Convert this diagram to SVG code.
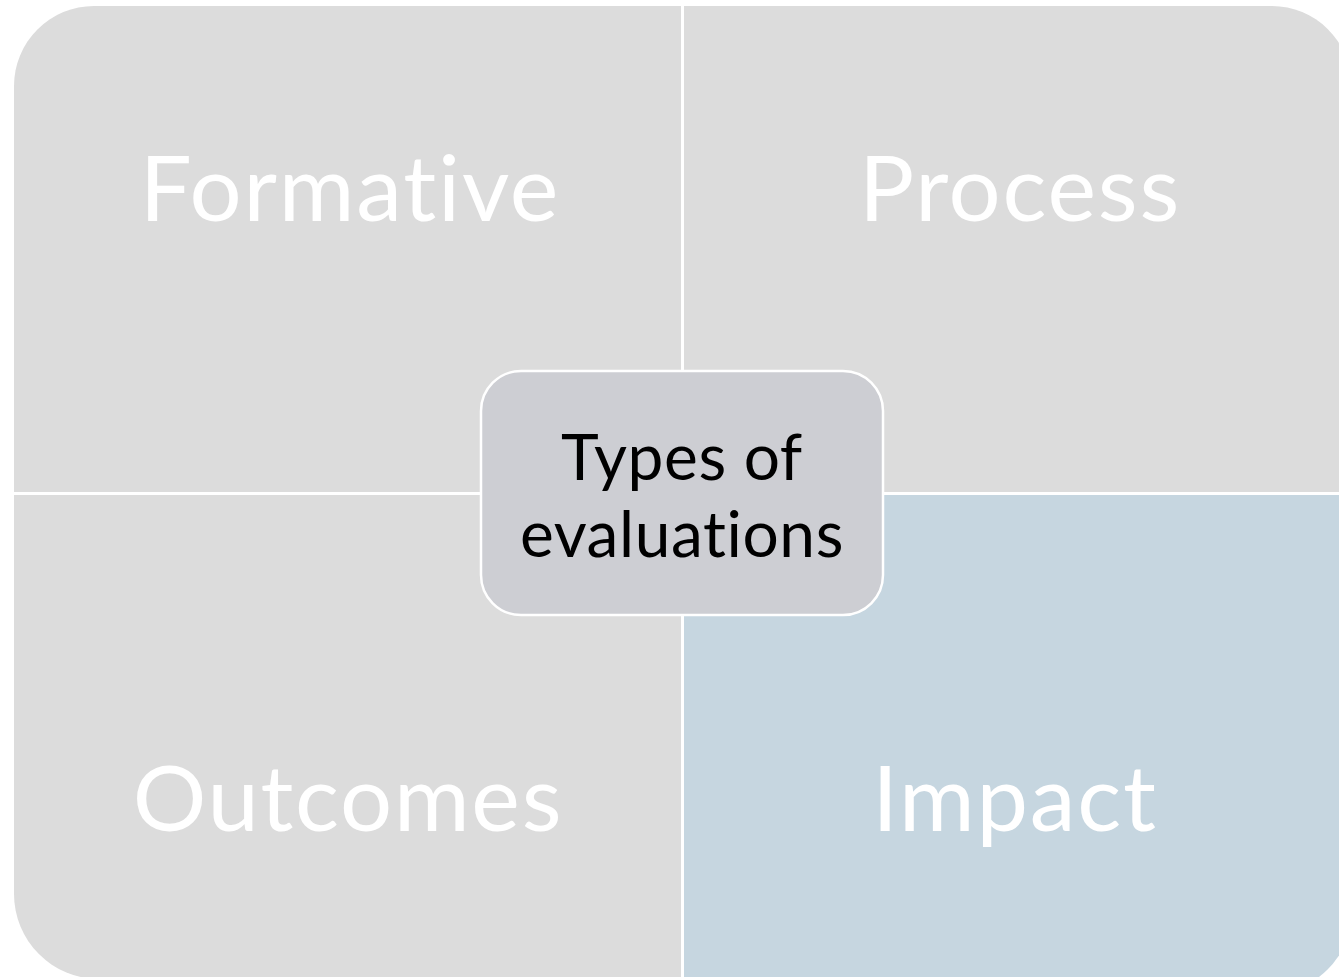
<svg xmlns="http://www.w3.org/2000/svg" width="1339" height="977" viewBox="0 0 1339 977">
<style>
.q{fill:#DCDCDC;}
.qi{fill:#C6D6E0;}
text{font-variant-ligatures:none;font-feature-settings:"liga" 0,"clig" 0;}
.qt{font-family:Lato,"Liberation Sans",sans-serif;font-weight:400;font-size:92px;letter-spacing:1.8px;fill:#FFFFFF;text-anchor:middle;}
.ct{font-family:Lato,"Liberation Sans",sans-serif;font-weight:400;font-size:64px;letter-spacing:0.6px;fill:#000000;text-anchor:middle;}
</style>
<rect width="1339" height="977" fill="#FFFFFF"/>
<g id="formative">
<path class="q" d="M14,86 A80,80 0 0 1 94,6 L681,6 L681,492 L14,492 Z"/>
<text class="qt" x="350" y="221">Formative</text>
</g>
<g id="process">
<path class="q" d="M684,6 L1272,6 A79,79 0 0 1 1351,85 L1351,492 L684,492 Z"/>
<text class="qt" x="1020" y="221">Process</text>
</g>
<g id="outcomes">
<path class="q" d="M14,495 L681,495 L681,979 L99,979 A85,85 0 0 1 14,894 Z"/>
<text class="qt" x="348" y="831">Outcomes</text>
</g>
<g id="impact">
<path class="qi" d="M684,495 L1351,495 L1351,913 A80,80 0 0 1 1271,993 L684,993 Z"/>
<text class="qt" x="1015" y="831">Impact</text>
</g>
<g id="connectors"></g>
<g id="center">
<rect x="481" y="371" width="402" height="244" rx="40" ry="40" fill="#CDCED3" stroke="#FFFFFF" stroke-width="2.5"/>
<text class="ct" x="682" y="480">Types of</text>
<text class="ct" x="682" y="557">evaluations</text>
</g>
</svg>
